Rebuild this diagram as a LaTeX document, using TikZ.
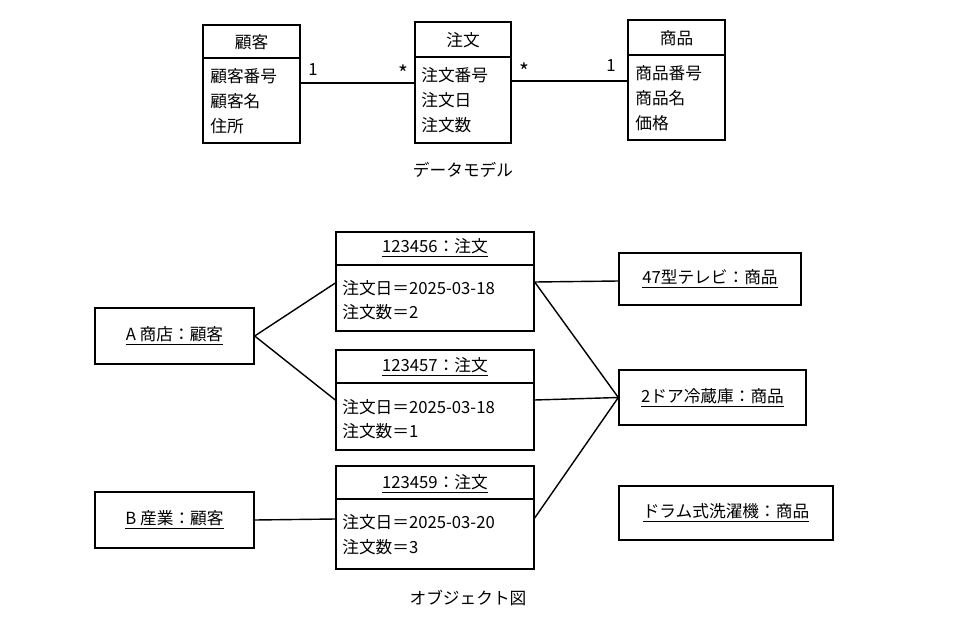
\documentclass[tikz,border=0pt]{standalone}
\usepackage{fontspec}
\setmainfont{Noto Sans CJK JP}
\usetikzlibrary{positioning}
\tikzset{
  box/.style={draw,thick,rectangle,inner sep=0pt},
  txt/.style={inner sep=0pt,anchor=west},
  lnk/.style={thick}
}
\begin{document}
\begin{tikzpicture}[x=0.02cm,y=-0.02cm,font=\fontsize{9.5}{12}\selectfont]
\useasboundingbox (0,0) rectangle (975,640);

% data model
\node[box,minimum width=1.94cm,minimum height=2.36cm] (kokyaku) at (251.5,84) {};
\node[box,minimum width=1.92cm,minimum height=2.42cm] (chumon) at (463,82.5) {};
\node[box,minimum width=1.94cm,minimum height=2.40cm] (shohin) at (676.5,80) {};
\draw[thick] (kokyaku.west |- 0,58) -- (kokyaku.east |- 0,58);
\draw[thick] (chumon.west |- 0,57) -- (chumon.east |- 0,57);
\draw[thick] (shohin.west |- 0,55) -- (shohin.east |- 0,55);
\node (kokyakuT) at (251.5,42) {顧客};
\node (chumonT) at (463,40) {注文};
\node (shohinT) at (676.5,38) {商品};
\node[txt] (k1) at (210,76) {顧客番号};
\node[txt] (k2) at (210,101) {顧客名};
\node[txt] (k3) at (210,126) {住所};
\node[txt] (c1) at (421,75) {注文番号};
\node[txt] (c2) at (421,100) {注文日};
\node[txt] (c3) at (421,125) {注文数};
\node[txt] (s1) at (635,73) {商品番号};
\node[txt] (s2) at (635,98) {商品名};
\node[txt] (s3) at (635,123) {価格};
\draw[lnk] (kokyaku.east |- 0,83) -- (chumon.west |- 0,83);
\draw[lnk] (chumon.east |- 0,81) -- (shohin.west |- 0,81);
\node at (313,70) {1};
\node at (403,73) {\large *};
\node at (524,71) {\large *};
\node at (611,66) {1};
\node (dm) at (463,170) {データモデル};

% object diagram
\node[box,minimum width=3.96cm,minimum height=1.98cm] (o1) at (435,281.5) {};
\node[box,minimum width=3.96cm,minimum height=2.00cm] (o2) at (435,400) {};
\node[box,minimum width=3.96cm,minimum height=2.06cm] (o3) at (435,517.5) {};
\draw[thick] (o1.west |- 0,265) -- (o1.east |- 0,265);
\draw[thick] (o2.west |- 0,383) -- (o2.east |- 0,383);
\draw[thick] (o3.west |- 0,499) -- (o3.east |- 0,499);
\node at (435,248) {\underline{123456：注文}};
\node at (435,367) {\underline{123457：注文}};
\node at (435,484) {\underline{123459：注文}};
\node[txt] at (342,288) {注文日＝2025-03-18};
\node[txt] at (342,312) {注文数＝2};
\node[txt] at (342,407) {注文日＝2025-03-18};
\node[txt] at (342,431) {注文数＝1};
\node[txt] at (342,522) {注文日＝2025-03-20};
\node[txt] at (342,547) {注文数＝3};

\node[box,minimum width=3.18cm,minimum height=1.12cm] (a) at (174.5,336) {\underline{A 商店：顧客}};
\node[box,minimum width=3.18cm,minimum height=1.12cm] (b) at (174.5,520) {\underline{B 産業：顧客}};
\node[box,minimum width=3.64cm,minimum height=1.04cm] (tv) at (710,279) {\underline{47型テレビ：商品}};
\node[box,minimum width=3.74cm,minimum height=1.10cm] (fr) at (712.5,397.5) {\underline{2ドア冷蔵庫：商品}};
\node[box,minimum width=4.28cm,minimum height=1.08cm] (wm) at (726,513) {\underline{ドラム式洗濯機：商品}};

\draw[lnk] (a.east) -- (o1.west |- 0,283);
\draw[lnk] (a.east) -- (o2.west |- 0,400);
\draw[lnk] (b.east) -- (o3.west |- 0,519);
\draw[lnk] (o1.east |- 0,282) -- (tv.west |- 0,281);
\draw[lnk] (o1.east |- 0,282) -- (fr.west);
\draw[lnk] (o2.east |- 0,400) -- (fr.west);
\draw[lnk] (o3.east |- 0,518) -- (fr.west);
\node (od) at (468,598) {オブジェクト図};
\end{tikzpicture}
\end{document}
